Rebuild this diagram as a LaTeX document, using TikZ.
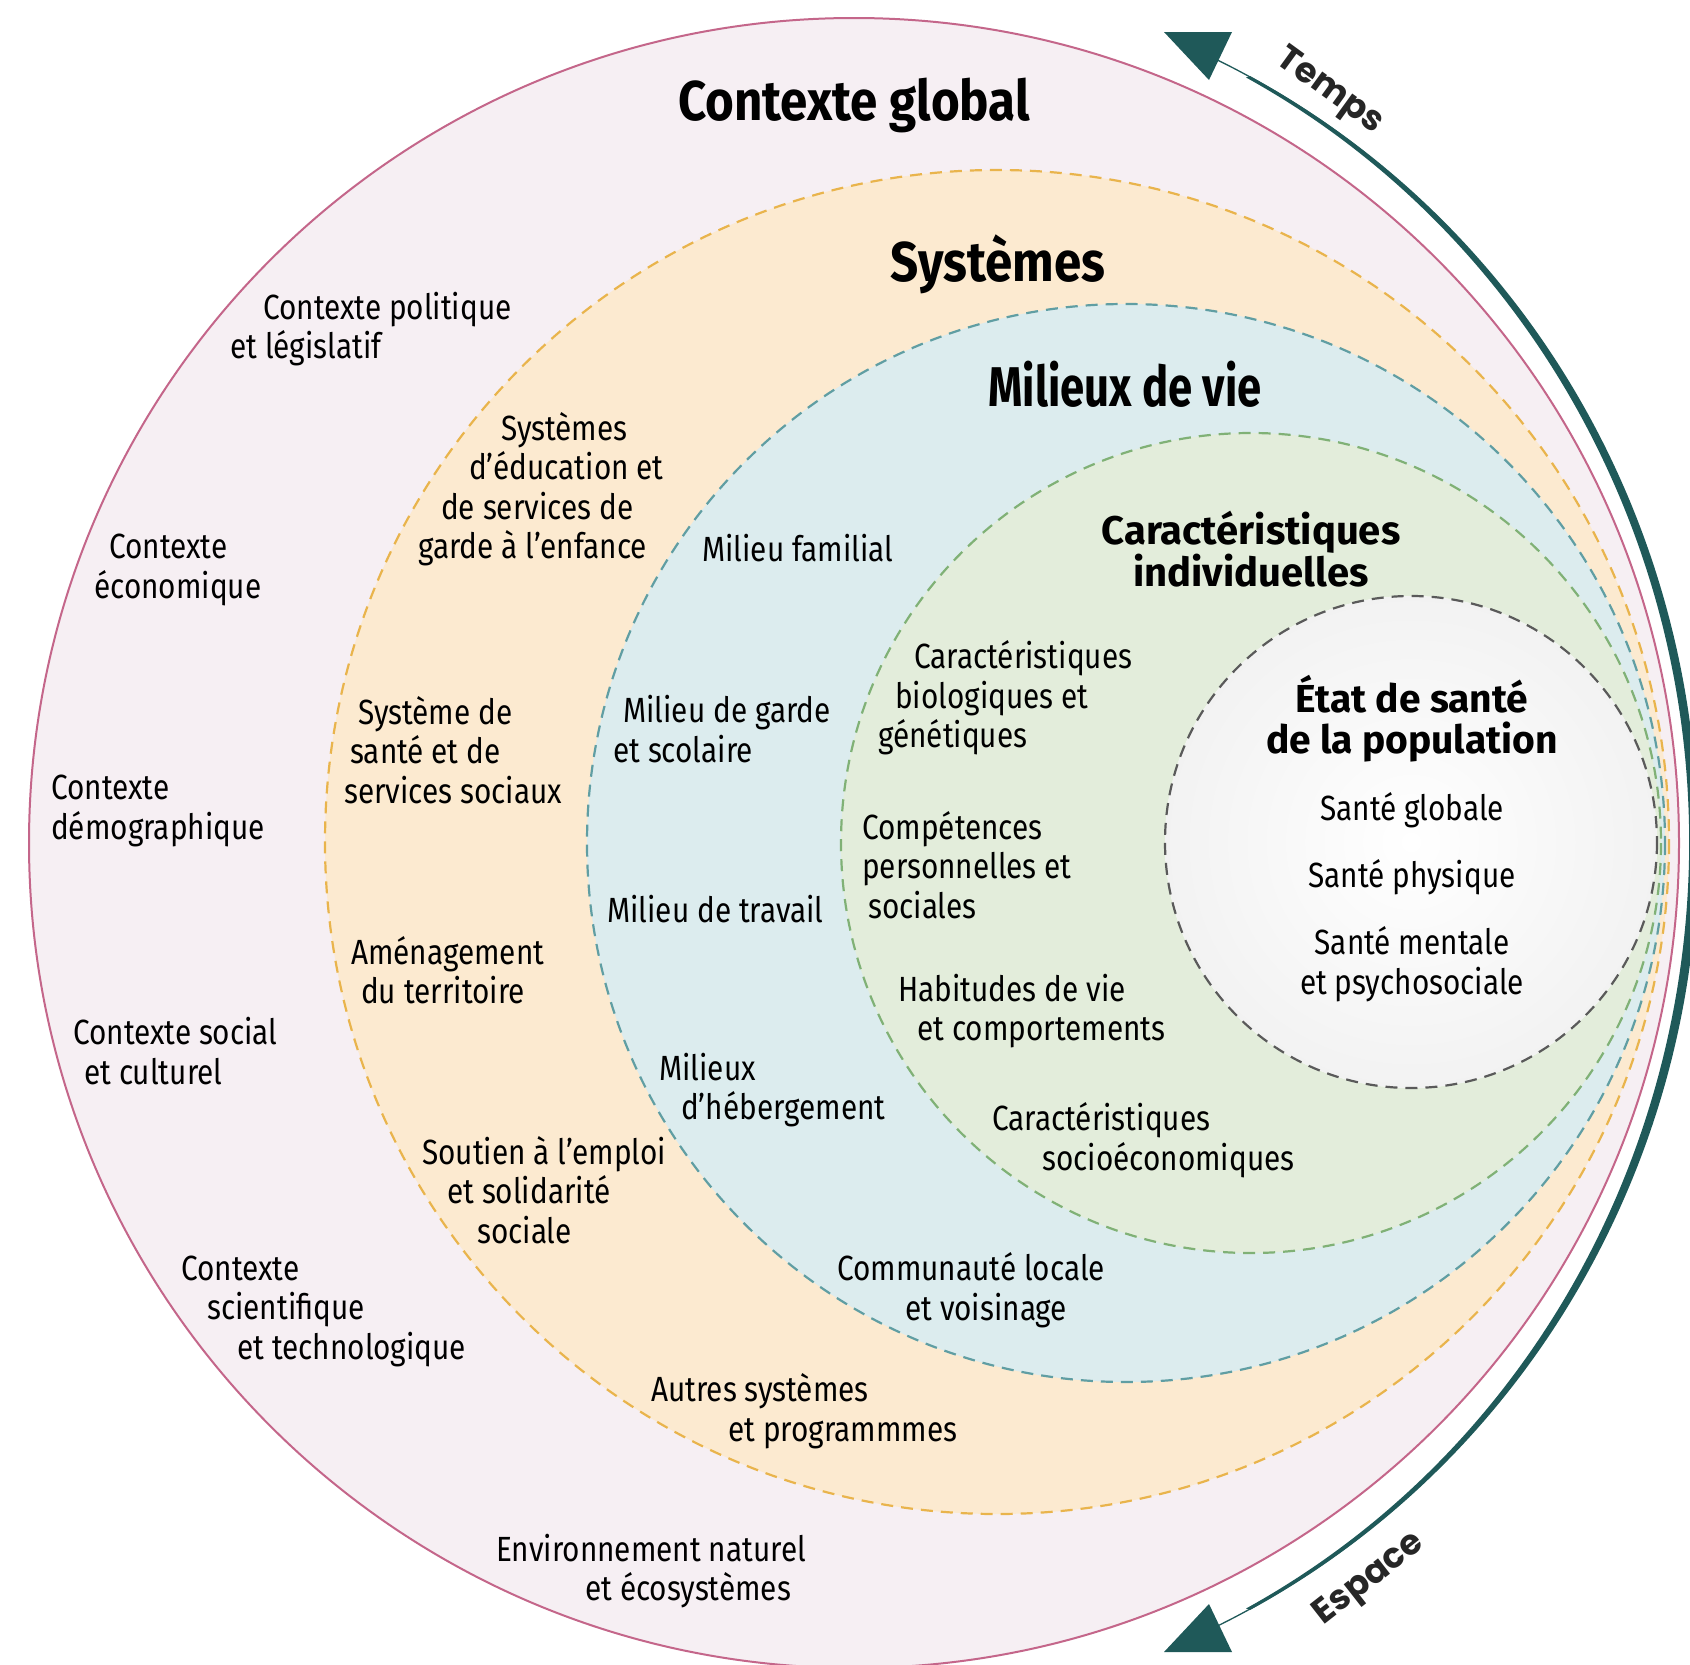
\documentclass[tikz,border=0pt]{standalone}
\usepackage{fontspec}
\setmainfont{Fira Sans}[FakeStretch=0.85]
\newfontfamily\widefont{Fira Sans}
\newfontfamily\headfont{Fira Sans}[FakeStretch=0.88]
\newfontfamily\narrowfont{Fira Sans}[FakeStretch=0.78]
\newfontfamily\arcfont{Poppins}
\usetikzlibrary{calc}

\definecolor{ctxfill}{HTML}{F6EFF3}
\definecolor{ctxline}{HTML}{C4668A}
\definecolor{sysfill}{HTML}{FCEAD0}
\definecolor{sysline}{HTML}{E9B44C}
\definecolor{milfill}{HTML}{DCECEE}
\definecolor{milline}{HTML}{609EA3}
\definecolor{carfill}{HTML}{E3EDDB}
\definecolor{carline}{HTML}{80B176}
\definecolor{etatline}{HTML}{5A5A5A}
\definecolor{arcteal}{HTML}{1F5959}

\begin{document}
\begin{tikzpicture}[x=1pt, y=-1pt,
  lbl/.style={font=\fontsize{35}{39.5}\selectfont, align=left, anchor=west, inner sep=0pt},
  ctrlbl/.style={font=\fontsize{35}{39.5}\selectfont, align=center, inner sep=0pt},
  bighead/.style={font=\headfont\fontsize{56}{60}\selectfont\bfseries, inner sep=0pt},
  smallhead/.style={font=\widefont\fontsize{40}{41}\selectfont\bfseries, align=center, inner sep=0pt},
  arclbl/.style={font=\arcfont\fontsize{35}{38}\selectfont\bfseries, text=black!85, inner sep=0pt},
  ringline/.style={line width=2.2pt, dash pattern=on 12pt off 8pt}]
\useasboundingbox (0,0) rectangle (1690,1665);

% centres des cercles
\coordinate (ctx) at (854,843);
\coordinate (sys) at (997,842);
\coordinate (mil) at (1126,843);
\coordinate (car) at (1251,843);
\coordinate (eta) at (1411,842);

% cercles
\path[fill=ctxfill, draw=ctxline, line width=2pt] (ctx) circle[radius=825];
\path[fill=sysfill, draw=sysline, ringline] (sys) circle[radius=672];
\path[fill=milfill, draw=milline, ringline] (mil) circle[radius=539];
\path[fill=carfill, draw=carline, ringline] (car) circle[radius=410];
\path[fill=white] (eta) circle[radius=246];
\shade[inner color=white, outer color=black!5] (eta) circle[radius=246];
\path[draw=etatline, ringline] (eta) circle[radius=246];

% fleche temps / espace
\coordinate (tipT) at (1164,32);
\coordinate (barbT1) at (1232,32);
\coordinate (barbT2) at (1209,80);
\coordinate (tipE) at (1164,1652);
\coordinate (barbE1) at (1232,1652);
\coordinate (barbE2) at (1209,1604);
\path[draw=arcteal, line width=1.3pt] ($(ctx)+(-66:842 and 868)$)
  arc[start angle=-66, end angle=66, x radius=842, y radius=868];
\path[fill=arcteal] ($(ctx)+(-62:844 and 868.5)$)
  arc[start angle=-62, end angle=62, x radius=844, y radius=868.5]
  -- ($(ctx)+(62:835 and 867)$)
  arc[start angle=62, end angle=-62, x radius=835, y radius=867] -- cycle;
\path[fill=arcteal] (tipT) -- (barbT1) -- (barbT2) -- cycle;
\path[fill=arcteal] (tipE) -- (barbE1) -- (barbE2) -- cycle;
\node[arclbl, rotate=-36] (temps) at (1329,92) {Temps};
\node[arclbl, rotate=38] (espace) at (1370,1580) {Espace};

% titres
\node[bighead] (global) at (854,105) {Contexte global};
\node[bighead] (systemes) at (998,264) {Systèmes};
\node[bighead, font=\narrowfont\fontsize{56}{60}\selectfont\bfseries] (milieux) at (1125,384) {Milieux de vie};
\node[smallhead] (caract) at (1251,549) {Caractéristiques\\individuelles};
\node[smallhead, font=\widefont\fontsize{39}{41}\selectfont\bfseries] (etat) at (1412,719) {État de santé\\de la population};

% contexte global
\node[lbl] (politique) at (230,329) {\hspace*{33pt}Contexte politique\\et législatif};
\node[lbl] (economique) at (94,570) {\hspace*{15pt}Contexte\\économique};
\node[lbl] (demographique) at (51,811) {Contexte\\démographique};
\node[lbl] (social) at (73,1051) {Contexte social\\\hspace*{11pt}et culturel};
\node[lbl] (scientifique) at (181,1311) {Contexte\\\hspace*{26pt}scientifique\\\hspace*{56pt}et technologique};
\node[lbl] (naturel) at (496,1571) {Environnement naturel\\\hspace*{89pt}et écosystèmes};

% systemes
\node[lbl] (education) at (418,489) {\hspace*{83pt}Systèmes\\\hspace*{51pt}d’éducation et\\\hspace*{23pt}de services de\\garde à l’enfance};
\node[lbl] (sante) at (344,750) {\hspace*{14pt}Système de\\\hspace*{6pt}santé et de\\services sociaux};
\node[lbl] (territoire) at (351,970) {Aménagement\\\hspace*{10pt}du territoire};
\node[lbl] (emploi) at (422,1190) {Soutien à l’emploi\\\hspace*{25pt}et solidarité\\\hspace*{55pt}sociale};
\node[lbl] (autres) at (651,1411) {Autres systèmes\\\hspace*{77pt}et programmmes};

% milieux de vie
\node[lbl] (familial) at (702,548) {Milieu familial};
\node[lbl] (scolaire) at (613,729) {\hspace*{10pt}Milieu de garde\\et scolaire};
\node[lbl] (travail) at (607,909) {Milieu de travail};
\node[lbl] (hebergement) at (659,1090) {Milieux\\\hspace*{22pt}d’hébergement};
\node[lbl] (communaute) at (837,1290) {Communauté locale\\\hspace*{68pt}et voisinage};

% caracteristiques individuelles
\node[lbl] (biologiques) at (878,698) {\hspace*{36pt}Caractéristiques\\\hspace*{17pt}biologiques et\\génétiques};
\node[lbl] (competences) at (862,865) {Compétences\\personnelles et\\\hspace*{6pt}sociales};
\node[lbl] (habitudes) at (898,1011) {Habitudes de vie\\\hspace*{19pt}et comportements};
\node[lbl] (socioeco) at (992,1140) {Caractéristiques\\\hspace*{50pt}socioéconomiques};

% etat de sante
\node[ctrlbl] (globale) at (1412,810) {Santé globale};
\node[ctrlbl] (physique) at (1412,877) {Santé physique};
\node[ctrlbl] (mentale) at (1412,964) {Santé mentale\\et psychosociale};
\end{tikzpicture}
\end{document}
